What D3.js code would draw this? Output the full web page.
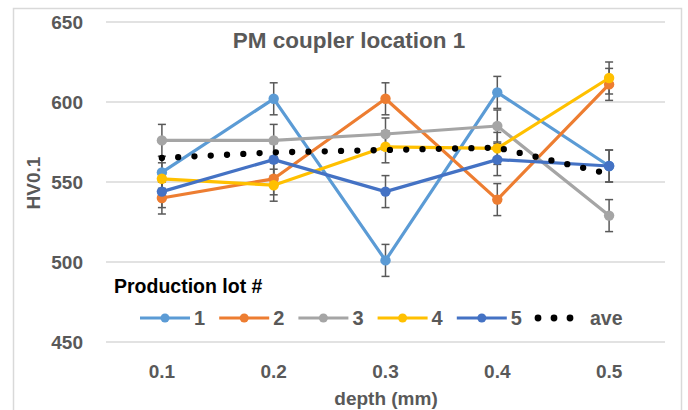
<html>
<head>
<script src="https://cdn.jsdelivr.net/npm/d3@7"></script>
<style>
  body { margin: 0; background: #fff; }
  text { font-family: "Liberation Sans", Arial, sans-serif; font-weight: bold; fill: #595959; }
</style>
</head>
<body>
<svg width="688" height="410"></svg>
<script>
// data
var depths = ["0.1", "0.2", "0.3", "0.4", "0.5"];
var lot1 = [556, 602, 501, 606, 560];
var lot2 = [540, 552, 602, 539, 611];
var lot3 = [576, 576, 580, 585, 529];
var lot4 = [552, 548, 572, 571, 615];
var lot5 = [544, 564, 544, 564, 560];
var ave  = [565, 568.5, 570, 571.5, 555];
var errSize = 10;
var yTicks = [450, 500, 550, 600, 650];

var series = [
  {name: "1", values: lot1, color: "#5B9BD5"},
  {name: "2", values: lot2, color: "#ED7D31"},
  {name: "3", values: lot3, color: "#A5A5A5"},
  {name: "4", values: lot4, color: "#FFC000"},
  {name: "5", values: lot5, color: "#4472C4"}
];

var svg = d3.select("svg");

// chart border
svg.append("rect")
  .attr("x", 13.5).attr("y", 8.5)
  .attr("width", 668).attr("height", 420)
  .attr("fill", "none").attr("stroke", "#d9d9d9").attr("stroke-width", 1.5);

var x = d3.scalePoint().domain(depths).range([106, 665]).padding(0.5);
var y = d3.scaleLinear().domain([450, 650]).range([342, 22]);

// gridlines
svg.append("g").selectAll("line")
  .data(yTicks).enter().append("line")
  .attr("x1", 106).attr("x2", 665)
  .attr("y1", function(d) { return y(d); })
  .attr("y2", function(d) { return y(d); })
  .attr("stroke", "#d9d9d9").attr("stroke-width", 1.5);

// y tick labels
svg.append("g").selectAll("text")
  .data(yTicks).enter().append("text")
  .attr("x", 83)
  .attr("y", function(d) { return y(d) + 7; })
  .attr("text-anchor", "end")
  .attr("font-size", "19px")
  .text(function(d) { return d; });

// x tick labels
svg.append("g").selectAll("text")
  .data(depths).enter().append("text")
  .attr("x", function(d) { return x(d); })
  .attr("y", 378)
  .attr("text-anchor", "middle")
  .attr("font-size", "19px")
  .text(function(d) { return d; });

// axis titles
svg.append("text")
  .attr("transform", "translate(40,183) rotate(-90)")
  .attr("text-anchor", "middle")
  .attr("font-size", "19px")
  .text("HV0.1");

svg.append("text")
  .attr("x", 386).attr("y", 405)
  .attr("text-anchor", "middle")
  .attr("font-size", "19px")
  .text("depth (mm)");

svg.append("text")
  .attr("x", 349).attr("y", 48)
  .attr("text-anchor", "middle")
  .attr("font-size", "22.5px")
  .text("PM coupler location 1");

// error bars
var eb = svg.append("g").attr("stroke", "#595959").attr("stroke-width", 1.5);
series.forEach(function(s) {
  s.values.forEach(function(v, i) {
    var cx = x(depths[i]);
    eb.append("line").attr("x1", cx).attr("x2", cx)
      .attr("y1", y(v - errSize)).attr("y2", y(v + errSize));
    eb.append("line").attr("x1", cx - 4).attr("x2", cx + 4)
      .attr("y1", y(v - errSize)).attr("y2", y(v - errSize));
    eb.append("line").attr("x1", cx - 4).attr("x2", cx + 4)
      .attr("y1", y(v + errSize)).attr("y2", y(v + errSize));
  });
});

var line = d3.line()
  .x(function(d, i) { return x(depths[i]); })
  .y(function(d) { return y(d); });

series.forEach(function(s) {
  var g = svg.append("g");
  g.append("path")
    .attr("d", line(s.values))
    .attr("fill", "none").attr("stroke", s.color)
    .attr("stroke-width", 3.2).attr("stroke-linejoin", "round");
  g.selectAll("circle")
    .data(s.values).enter().append("circle")
    .attr("cx", function(d, i) { return x(depths[i]); })
    .attr("cy", function(d) { return y(d); })
    .attr("r", 5.2)
    .attr("fill", s.color);
});

// average dotted line
svg.append("path")
  .attr("d", line(ave))
  .attr("fill", "none").attr("stroke", "#000")
  .attr("stroke-width", 6.3)
  .attr("stroke-linecap", "round")
  .attr("stroke-dasharray", "0 16.3");

// legend
svg.append("text")
  .attr("x", 114).attr("y", 293)
  .attr("font-size", "19.5px")
  .style("fill", "#000")
  .text("Production lot #");

var leg = svg.append("g");
series.forEach(function(s, i) {
  var lx = 140 + i * 79.2;
  leg.append("line")
    .attr("x1", lx).attr("x2", lx + 50)
    .attr("y1", 318).attr("y2", 318)
    .attr("stroke", s.color).attr("stroke-width", 3.2);
  leg.append("circle")
    .attr("cx", lx + 25).attr("cy", 318).attr("r", 4.5)
    .attr("fill", s.color);
  leg.append("text")
    .attr("x", lx + 54).attr("y", 325)
    .attr("font-size", "20px")
    .text(s.name);
});
[538, 554, 570].forEach(function(dx) {
  leg.append("circle").attr("cx", dx).attr("cy", 318).attr("r", 3.4).attr("fill", "#000");
});
leg.append("text")
  .attr("x", 590).attr("y", 325)
  .attr("font-size", "19.5px")
  .text("ave");
</script>
</body>
</html>
